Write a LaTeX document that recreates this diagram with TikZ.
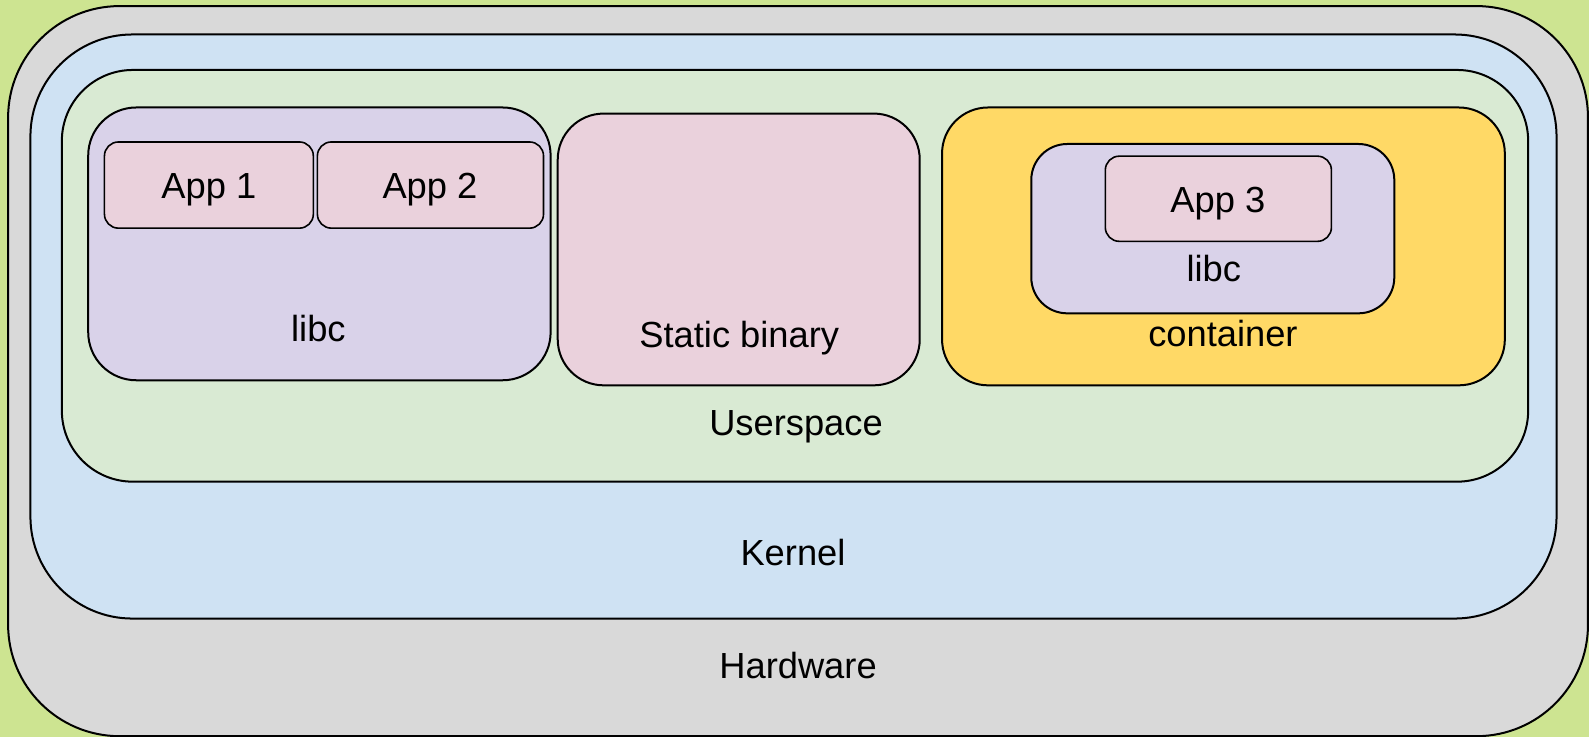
\documentclass[tikz,border=0pt]{standalone}
\usepackage{fontspec}
\setmainfont{Liberation Sans}
\usetikzlibrary{fit}
\definecolor{bgc}{RGB}{205,228,145}
\definecolor{hwc}{HTML}{D9D9D9}
\definecolor{kec}{HTML}{CFE2F3}
\definecolor{usc}{HTML}{D9EAD3}
\definecolor{lic}{HTML}{D9D2E9}
\definecolor{apc}{HTML}{EAD1DC}
\definecolor{coc}{HTML}{FFD966}
\begin{document}
\begin{tikzpicture}[x=0.507pt,y=-0.507pt,
  box/.style={draw=black, line width=1pt, inner sep=0pt, rounded corners=#1},
  lbl/.style={anchor=base, font=\fontsize{18.15}{20}\selectfont, inner sep=0pt}]
\fill[bgc] (0,0) rectangle (1567,726.8);
\useasboundingbox (0,0) rectangle (1567,726.8);
% layers
\node (hw) [box=55.8pt, fill=hwc, fit={(8,6) (1566,726)}] {};
\node (kern) [box=51pt, fill=kec, fit={(30,34) (1535,610)}] {};
\node (user) [box=35.5pt, fill=usc, fit={(61,69) (1507,475)}] {};
% left libc group
\node (libcA) [box=24pt, fill=lic, fit={(87,106) (543,375)}] {};
\node (app1) [box=7pt, fill=apc, line width=0.8pt, fit={(103,140) (309,225)}] {};
\node (app2) [box=7pt, fill=apc, line width=0.8pt, fit={(313,140) (536,225)}] {};
% static binary
\node (static) [box=23pt, fill=apc, fit={(550,112) (907,380)}] {};
% container
\node (cont) [box=23pt, fill=coc, fit={(929,106) (1484,380)}] {};
\node (libcB) [box=18pt, fill=lic, fit={(1017,142) (1375,309)}] {};
\node (app3) [box=7pt, fill=apc, line width=0.8pt, fit={(1090,154) (1313,238)}] {};
% labels
\node (app1l) [lbl] at (206,196) {App 1};
\node (app2l) [lbl] at (424,196) {App 2};
\node (libcAl) [lbl] at (314,337) {libc};
\node (staticl) [lbl] at (729,343) {Static binary};
\node (contl) [lbl] at (1206,342) {container};
\node (app3l) [lbl] at (1201,210) {App 3};
\node (libcBl) [lbl] at (1197,278) {libc};
\node (userl) [lbl] at (785,429) {Userspace};
\node (kernl) [lbl] at (782,558) {Kernel};
\node (hwl) [lbl] at (787,669) {Hardware};
\end{tikzpicture}
\end{document}
